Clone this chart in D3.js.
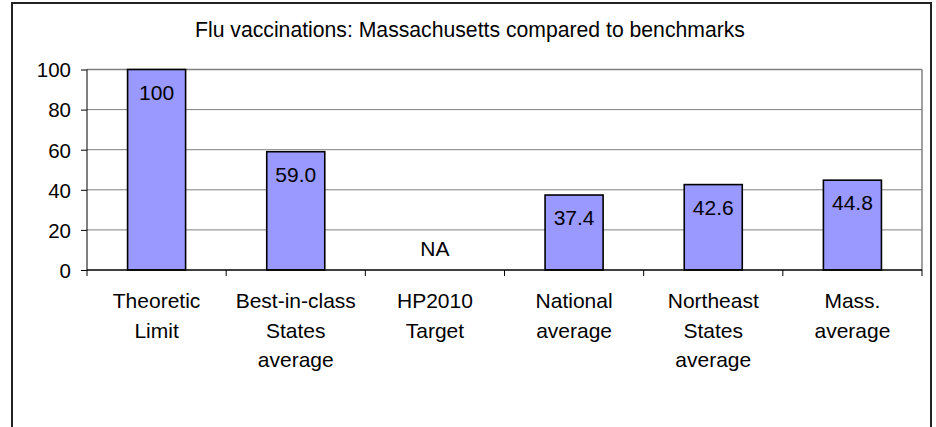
<!DOCTYPE html>
<html>
<head>
<meta charset="utf-8">
<script src="https://cdn.jsdelivr.net/npm/d3@7"></script>
<style>
  body { margin: 0; background: #fff; }
  text { font-family: "Liberation Sans", Arial, sans-serif; fill: #000; }
</style>
</head>
<body>
<div id="chart"></div>
<script>
// chart data
let categories = ["Theoretic Limit", "Best-in-class States average", "HP2010 Target",
                  "National average", "Northeast States average", "Mass. average"];
let categoryLines = [["Theoretic", "Limit"], ["Best-in-class", "States", "average"], ["HP2010", "Target"],
                     ["National", "average"], ["Northeast", "States", "average"], ["Mass.", "average"]];
let values = [100, 59.0, null, 37.4, 42.6, 44.8];
let valueLabels = ["100", "59.0", "NA", "37.4", "42.6", "44.8"];
let yTicks = [0, 20, 40, 60, 80, 100];
let title = "Flu vaccinations: Massachusetts compared to benchmarks";

let svgWidth = 936;
let svgHeight = 427;

let margin = { top: 69.5, right: 14, bottom: 157, left: 87 };
let width = svgWidth - margin.left - margin.right;
let height = svgHeight - margin.top - margin.bottom;

let svg = d3.select("#chart")
    .append("svg")
    .attr("width", svgWidth)
    .attr("height", svgHeight);

// outer frame (open at the bottom)
svg.append("path")
    .attr("d", "M12,430 L12,3 L931,3 L931,430")
    .attr("fill", "none")
    .attr("stroke", "#222")
    .attr("stroke-width", 2);

svg.append("text")
    .attr("x", 470)
    .attr("y", 37)
    .attr("text-anchor", "middle")
    .attr("font-size", 21.2)
    .text(title);

let chartGroup = svg.append("g")
    .attr("transform", `translate(${margin.left}, ${margin.top})`);

let x = d3.scaleBand()
    .domain(categories)
    .range([0, width])
    .paddingInner(0.583)
    .paddingOuter(0.2915);

let y = d3.scaleLinear()
    .domain([0, 100])
    .range([height, 0]);

// gridlines
chartGroup.append("g")
    .selectAll("line")
    .data(yTicks.filter(d => d > 0))
    .enter()
    .append("line")
    .attr("x1", 0)
    .attr("x2", width)
    .attr("y1", d => y(d))
    .attr("y2", d => y(d))
    .attr("stroke", "#808080")
    .attr("stroke-width", d => d === 100 ? 1.5 : 1);

// plot border right
chartGroup.append("line")
    .attr("x1", width).attr("x2", width)
    .attr("y1", 0).attr("y2", height)
    .attr("stroke", "#808080")
    .attr("stroke-width", 1.5);

// bars
chartGroup.selectAll(".bar")
    .data(values.map((v, i) => ({ cat: categories[i], v: v })).filter(d => d.v !== null))
    .enter()
    .append("rect")
    .attr("class", "bar")
    .attr("x", d => x(d.cat))
    .attr("y", d => y(d.v))
    .attr("width", x.bandwidth())
    .attr("height", d => height - y(d.v))
    .attr("fill", "#9999ff")
    .attr("stroke", "#000")
    .attr("stroke-width", 1.6);

// value labels
chartGroup.selectAll(".vlabel")
    .data(valueLabels.map((t, i) => ({ cat: categories[i], v: values[i], t: t })))
    .enter()
    .append("text")
    .attr("class", "vlabel")
    .attr("x", d => x(d.cat) + x.bandwidth() / 2)
    .attr("y", d => d.v === null ? y(0) - 14 : y(d.v) + 30)
    .attr("text-anchor", "middle")
    .attr("font-size", 21)
    .text(d => d.t);

// y axis
let leftAxis = d3.axisLeft(y).tickValues(yTicks).tickSize(6).tickPadding(10).tickFormat(d3.format("d"));
let yAxisG = chartGroup.append("g").call(leftAxis);
yAxisG.select(".domain").attr("d", `M0,0V${height}`).attr("stroke", "#000");
yAxisG.selectAll(".tick line").attr("stroke", "#000");
yAxisG.selectAll("text")
    .attr("font-size", 20.5)
    .attr("dy", "0.36em")
    .style("font-family", "'Liberation Sans', Arial, sans-serif");

// x axis with ticks between categories
let step = x.step();
let edges = d3.range(categories.length + 1).map(i => i * step);
let xAxisG = chartGroup.append("g").attr("transform", `translate(0, ${height})`);
xAxisG.append("line")
    .attr("x1", 0).attr("x2", width)
    .attr("stroke", "#000").attr("stroke-width", 1.5);
xAxisG.selectAll(".xt")
    .data(edges)
    .enter()
    .append("line")
    .attr("class", "xt")
    .attr("x1", d => d).attr("x2", d => d)
    .attr("y1", 0).attr("y2", 6)
    .attr("stroke", "#000");

// category labels
let catText = xAxisG.selectAll(".clabel")
    .data(categories)
    .enter()
    .append("text")
    .attr("class", "clabel")
    .attr("x", d => x(d) + x.bandwidth() / 2)
    .attr("y", 38)
    .attr("text-anchor", "middle")
    .attr("font-size", 21);

catText.selectAll("tspan")
    .data((d, i) => categoryLines[i])
    .enter()
    .append("tspan")
    .attr("x", function() { return d3.select(this.parentNode).attr("x"); })
    .attr("dy", (d, i) => i === 0 ? 0 : 29.5)
    .text(d => d);
</script>
</body>
</html>
